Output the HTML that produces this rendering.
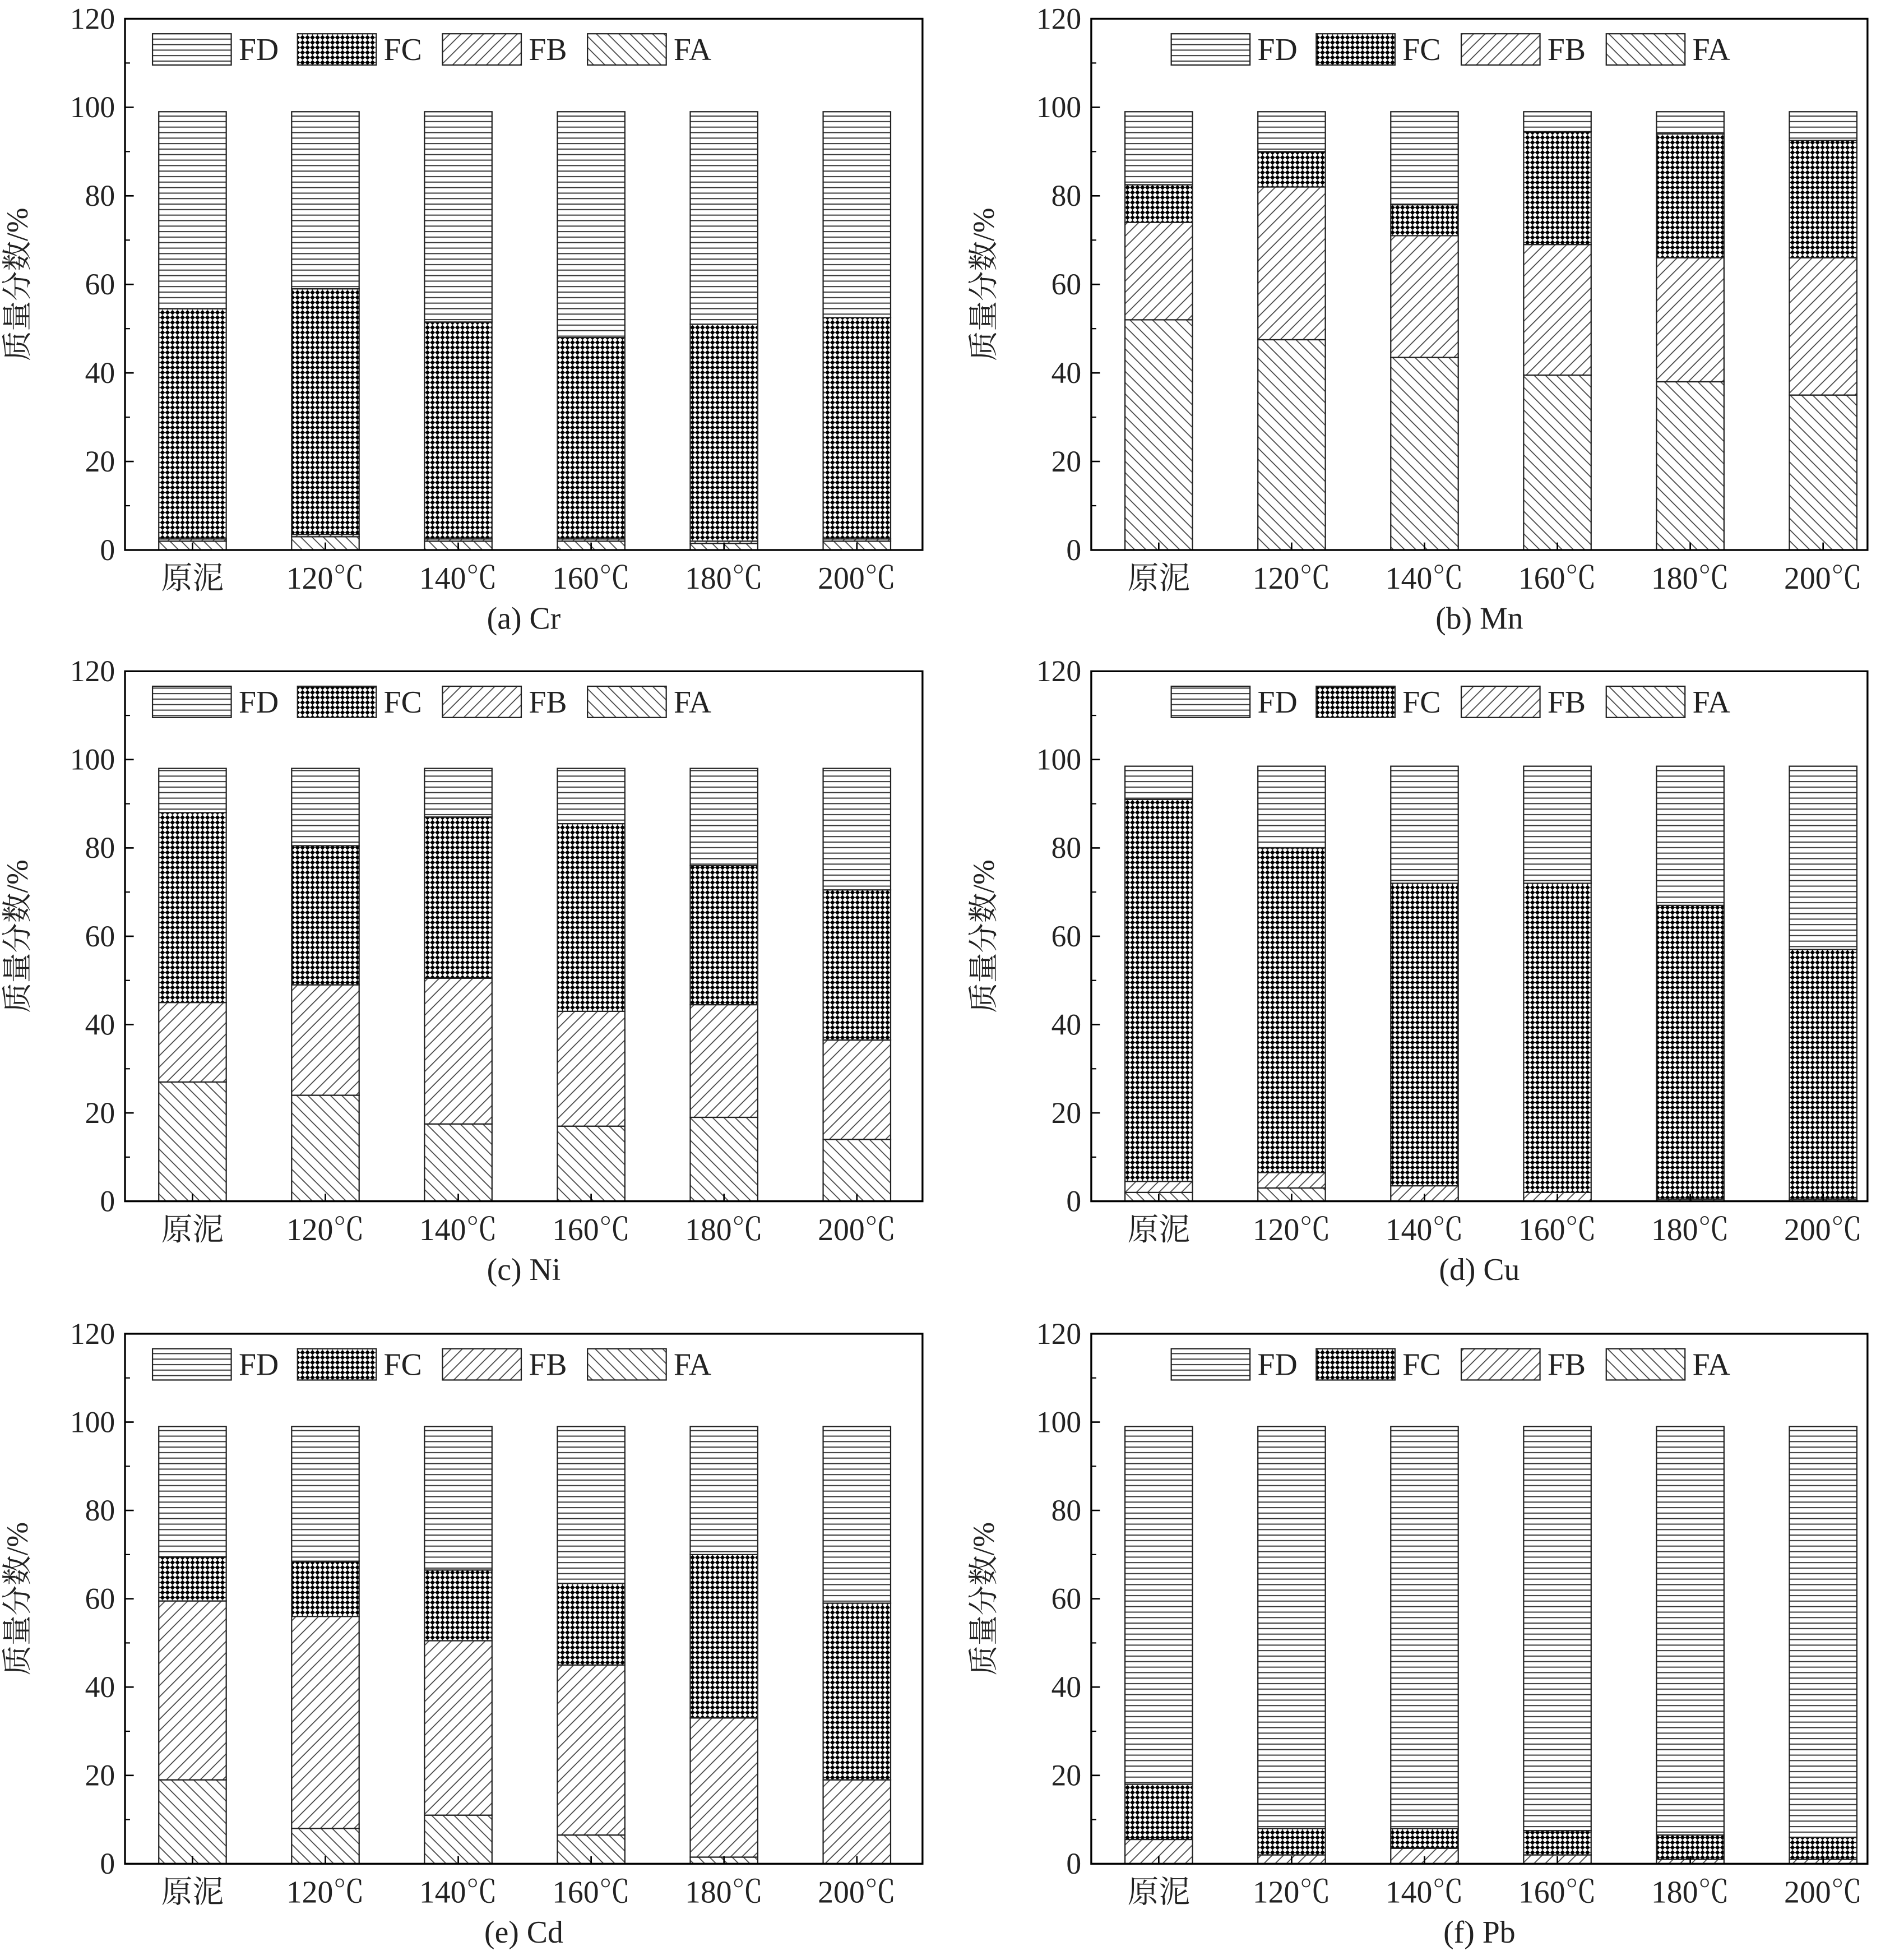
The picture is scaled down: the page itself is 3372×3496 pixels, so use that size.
<!DOCTYPE html>
<html><head><meta charset="utf-8"><style>html,body{margin:0;padding:0;background:#fff}svg{display:block}</style></head>
<body>
<svg id="chart" xmlns="http://www.w3.org/2000/svg" width="3372" height="3496" viewBox="0 0 1512 1568" preserveAspectRatio="none" font-family="'Liberation Serif','Noto Serif CJK SC',serif">
<defs>
<pattern id="pFD" width="8" height="4.4" patternUnits="userSpaceOnUse"><rect width="8" height="4.4" fill="#fff"/><line x1="0" y1="0.5" x2="8" y2="0.5" stroke="#333" stroke-width="0.9"/></pattern>
<pattern id="pFC" width="4" height="4" patternUnits="userSpaceOnUse"><rect width="4" height="4" fill="#fff"/><path d="M0 2L2 0L4 2L2 4Z" fill="#000"/></pattern>
<pattern id="pFB" width="9" height="9" patternUnits="userSpaceOnUse"><rect width="9" height="9" fill="#fff"/><path d="M-1 10L10 -1M-1 1L1 -1M8 10L10 8" stroke="#444" stroke-width="0.8"/></pattern>
<pattern id="pFA" width="9" height="9" patternUnits="userSpaceOnUse"><rect width="9" height="9" fill="#fff"/><path d="M-1 -1L10 10M8 -1L10 1M-1 8L1 10" stroke="#444" stroke-width="0.8"/></pattern>
</defs>
</svg>
<script>
const categories = ["原泥","120℃","140℃","160℃","180℃","200℃"];
const yTicks = [0,20,40,60,80,100,120];
const legendNames = ["FD","FC","FB","FA"];
const captions = ["(a) Cr","(b) Mn","(c) Ni","(d) Cu","(e) Cd","(f) Pb"];
// fraction values (%) per panel: FA, FB, FC, FD
const crFA=[2,3,2,2,1.5,2], crFB=[0.5,0.5,0.5,0.5,0.5,0.5], crFC=[52,55.5,49,45.5,49,50], crFD=[44.5,40,47.5,51,48,46.5];
const mnFA=[52,47.5,43.5,39.5,38,35], mnFB=[22,34.5,27.5,29.5,28,31], mnFC=[8.5,8,7,25.5,28,26.5], mnFD=[16.5,9,21,4.5,5,6.5];
const niFA=[27,24,17.5,17,19,14], niFB=[18,25,33,26,25.5,22.5], niFC=[43,31.5,36.5,42.5,31.5,34], niFD=[10,17.5,11,12.5,22,27.5];
const cuFA=[2,3,0,0,0,0], cuFB=[2.5,3.5,3.5,2,0.5,0.5], cuFC=[86.5,73.5,68.5,70,66.5,56.5], cuFD=[7.5,18.5,26.5,26.5,31.5,41.5];
const cdFA=[19,8,11,6.5,1.5,0], cdFB=[40.5,48,39.5,38.5,31.5,19], cdFC=[10,12.5,16,18.5,37,40], cdFD=[29.5,30.5,32.5,35.5,29,40];
const pbFA=[0,0,0,0,0,0], pbFB=[5.5,2,3.5,2,1,1], pbFC=[12.5,6,4.5,5.5,5.5,5], pbFD=[81,91,91,91.5,92.5,93];
const panelData=[[crFA,crFB,crFC,crFD],[mnFA,mnFB,mnFC,mnFD],[niFA,niFB,niFC,niFD],[cuFA,cuFB,cuFC,cuFD],[cdFA,cdFB,cdFC,cdFD],[pbFA,pbFB,pbFC,pbFD]];
const fills=["url(#pFA)","url(#pFB)","url(#pFC)","url(#pFD)"];
const fracNames=["fa","fb","fc","fd"];
const svg=document.getElementById('chart');
const NS="http://www.w3.org/2000/svg";
function mk(tag,attrs,parent){const e=document.createElementNS(NS,tag);for(const k in attrs)e.setAttribute(k,attrs[k]);(parent||svg).appendChild(e);return e;}
const lefts=[[100,738],[873,1494]];
const rows=[[15,440],[537,961],[1067,1491]];
panelData.forEach((d,p)=>{
  const [x0,x1]=lefts[p%2]; const [yT,yB]=rows[Math.floor(p/2)];
  const g=mk('g',{});
  
  
  const yS=v=>yB-(yB-yT)*v/120;
  const xS=i=>x0+54+i*106.3;
  categories.forEach((c,i)=>{
    let cum=0;
    for(let s=0;s<4;s++){
      const v=d[s][i]; if(v<=0){continue;}
      const r=mk('rect',{x:xS(i)-27,y:yS(cum+v),width:54,height:yS(cum)-yS(cum+v),fill:fills[s],stroke:'#222','stroke-width':1},g);
      
      
      cum+=v;
    }
    mk('line',{x1:xS(i),x2:xS(i),y1:yB,y2:yB-6,stroke:'#000','stroke-width':1.2},g);
    const t=mk('text',{x:xS(i),y:yB+31,'text-anchor':'middle','font-size':25,fill:'#222'},g);
    t.textContent=c;
    
    
  });
  const fr=mk('rect',{x:x0,y:yT,width:x1-x0,height:yB-yT,fill:'none',stroke:'#000','stroke-width':1.5},g);
  
  
  yTicks.forEach(v=>{
    mk('line',{x1:x0,x2:x0+7,y1:yS(v),y2:yS(v),stroke:'#000','stroke-width':1.2},g);
    if(v<120) mk('line',{x1:x0,x2:x0+4,y1:yS(v+10),y2:yS(v+10),stroke:'#000','stroke-width':1},g);
    const t=mk('text',{x:x0-8,y:yS(v)+8,'text-anchor':'end','font-size':24,fill:'#222'},g);
    t.textContent=v;
    
    
  });
  const ty=mk('text',{x:0,y:0,'text-anchor':'middle','font-size':24,fill:'#222',transform:`translate(${x0-78},${(yT+yB)/2}) rotate(-90)`},g);
  ty.textContent='质量分数/%';
  
  
  const cap=mk('text',{x:(x0+x1)/2,y:yB+63,'text-anchor':'middle','font-size':25,fill:'#222'},g);
  cap.textContent=captions[p];
  
  
  const lf=["url(#pFD)","url(#pFC)","url(#pFB)","url(#pFA)"];
  const lOff = (p%2===0) ? 22 : 64;
  legendNames.forEach((n,k)=>{
    const lx=x0+lOff+k*116;
    const lg=mk('g',{},g);
    
    
    mk('rect',{x:lx,y:yT+12,width:63,height:25,fill:lf[k],stroke:'#222','stroke-width':1},lg);
    const t=mk('text',{x:lx+69,y:yT+33,'font-size':25,fill:'#222'},lg);
    t.textContent=n;
  });
});
</script>
</body></html>
